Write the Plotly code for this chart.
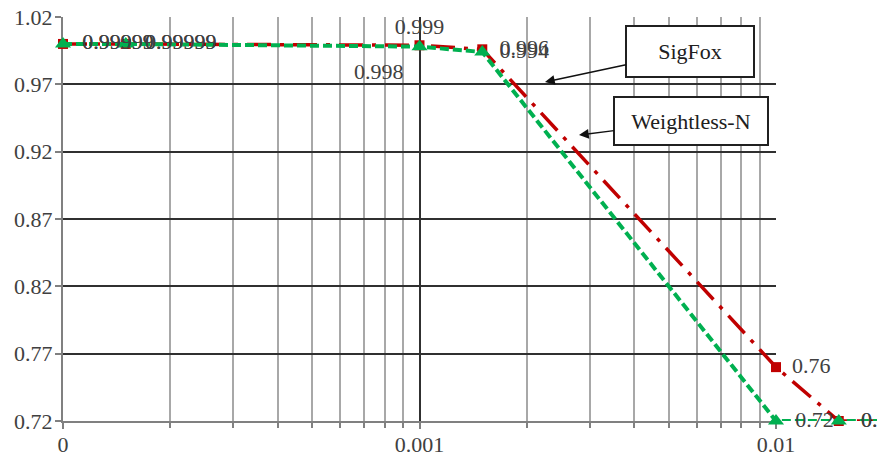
import plotly.graph_objects as go

# ---- data ----
error_rate = [0.0001, 0.00015, 0.001, 0.0015, 0.01, 0.015, 0.1]
sigfox = [0.99999, 0.99999, 0.999, 0.996, 0.76, 0.72, 0.72]
weightless = [0.99999, 0.99999, 0.998, 0.994, 0.72, 0.72, 0.72]
x_major_ticks = [0.0001, 0.001, 0.01]
x_major_text = ["0", "0.001", "0.01"]
y_ticks = [0.72, 0.77, 0.82, 0.87, 0.92, 0.97, 1.02]
sigfox_label_pos = ["middle right", "middle right", "top center", "middle right",
                    "middle right", "middle right", "middle right"]
weightless_label_pos = ["middle right", "middle right", "bottom left", "middle right",
                        "middle right", "middle right", "middle right"]
sigfox_label_gap = [29, 29, 7, 26, 24, 34, 34]
weightless_label_gap = [29, 29, 24, 26, 29, 34, 34]

W, H = 877, 457
ML, MR, MT, MB = 63, 0, 17, 36
plot_w = W - ML - MR
grid_right_px = 776
grid_frac = (grid_right_px - ML) / plot_w
px_per_decade = (grid_right_px - ML) / 2.0
data_range_hi = -4 + plot_w / px_per_decade

minor_vals = [m * 10 ** e for e in (-4, -3) for m in range(2, 10)]

FONT = "Liberation Serif, Times New Roman, serif"
TXT = "#404040"
FS = 22

fig = go.Figure()

# lines + markers
fig.add_trace(go.Scatter(
    x=error_rate, y=sigfox, mode="lines+markers", name="SigFox",
    line=dict(color="#C00000", width=3.5, dash="24px,9px,4px,9px"),
    marker=dict(symbol="square", size=10, color="#C00000"),
    cliponaxis=False, xaxis="x2", yaxis="y2", showlegend=False))

fig.add_trace(go.Scatter(
    x=error_rate, y=weightless, mode="lines+markers", name="Weightless-N",
    line=dict(color="#00B050", width=4, dash="9px,4px"),
    marker=dict(symbol="triangle-up", size=14, color="#00B050"),
    cliponaxis=False, xaxis="x2", yaxis="y2", showlegend=False))

# data labels (invisible markers give the label offset)
fig.add_trace(go.Scatter(
    x=error_rate, y=sigfox, mode="markers+text",
    marker=dict(size=sigfox_label_gap, opacity=0),
    text=[str(v) for v in sigfox], textposition=sigfox_label_pos,
    textfont=dict(family=FONT, size=FS, color=TXT), hoverinfo="skip",
    cliponaxis=False, xaxis="x2", yaxis="y2", showlegend=False))

fig.add_trace(go.Scatter(
    x=error_rate, y=weightless, mode="markers+text",
    marker=dict(size=weightless_label_gap, opacity=0),
    text=[str(v) for v in weightless], textposition=weightless_label_pos,
    textfont=dict(family=FONT, size=FS, color=TXT), hoverinfo="skip",
    cliponaxis=False, xaxis="x2", yaxis="y2", showlegend=False))

# invisible trace to establish the grid subplot
fig.add_trace(go.Scatter(x=[0.001], y=[0.9], mode="markers",
                         marker=dict(opacity=0), hoverinfo="skip",
                         showlegend=False, xaxis="x", yaxis="y"))

fig.update_layout(
    width=W, height=H, autosize=False,
    margin=dict(l=ML, r=MR, t=MT, b=MB, autoexpand=False),
    paper_bgcolor="white", plot_bgcolor="rgba(0,0,0,0)",
    font=dict(family=FONT, size=FS, color=TXT),
    xaxis=dict(
        type="log", range=[-4, -2], domain=[0, grid_frac], anchor="y",
        tickvals=x_major_ticks, ticktext=x_major_text, automargin=False,
        showgrid=True, gridcolor="#303030", gridwidth=2,
        ticks="outside", ticklen=6, tickcolor="#808080", tickwidth=1.5,
        showline=True, linecolor="#808080", linewidth=2,
        zeroline=False, tickfont=dict(family=FONT, size=FS, color=TXT),
        ticklabelstandoff=-3,
        minor=dict(tickmode="array", tickvals=minor_vals, showgrid=True,
                   gridcolor="#A8A8A8", gridwidth=1.5,
                   ticks="outside", ticklen=5, tickcolor="#808080"),
    ),
    yaxis=dict(
        range=[0.72, 1.02], domain=[0, 1], anchor="x", automargin=False,
        tickvals=y_ticks, ticktext=[f"{v:.2f}" for v in y_ticks],
        showgrid=True, gridcolor="#303030", gridwidth=2,
        ticks="outside", ticklen=6, tickcolor="#808080", tickwidth=1.5,
        showline=True, linecolor="#808080", linewidth=2,
        zeroline=False, tickfont=dict(family=FONT, size=FS, color=TXT),
        ticklabelstandoff=-2,
    ),
    xaxis2=dict(type="log", range=[-4, data_range_hi], domain=[0, 1],
                anchor="y2", visible=False, showgrid=False, automargin=False),
    yaxis2=dict(range=[0.72, 1.02], domain=[0, 1], anchor="x2",
                visible=False, showgrid=False, automargin=False),
)

def px_to_logx(px):
    return -4 + (px - ML) / px_per_decade

def py_to_y(py):
    return 1.02 - (py - MT) / (H - MT - MB) * 0.30

fig.add_annotation(
    x=px_to_logx(545), y=py_to_y(82), xref="x", yref="y",
    ax=145, ay=-31, text="SigFox", showarrow=True,
    arrowhead=2, arrowsize=1.3, arrowwidth=1.5, arrowcolor="#101010",
    bordercolor="#202020", borderwidth=2, bgcolor="white",
    width=124, height=47, font=dict(family=FONT, size=FS, color="#202020"))

fig.add_annotation(
    x=px_to_logx(579), y=py_to_y(135), xref="x", yref="y",
    ax=112, ay=-14, text="Weightless-N", showarrow=True,
    arrowhead=2, arrowsize=1.3, arrowwidth=1.5, arrowcolor="#101010",
    bordercolor="#202020", borderwidth=2, bgcolor="white",
    width=150, height=44, font=dict(family=FONT, size=FS, color="#202020"))

fig.write_html(
    "out.html",
    config={"displayModeBar": False},
    post_script=("document.body.style.margin='0';"
                 "document.body.style.overflow='hidden';"),
)
